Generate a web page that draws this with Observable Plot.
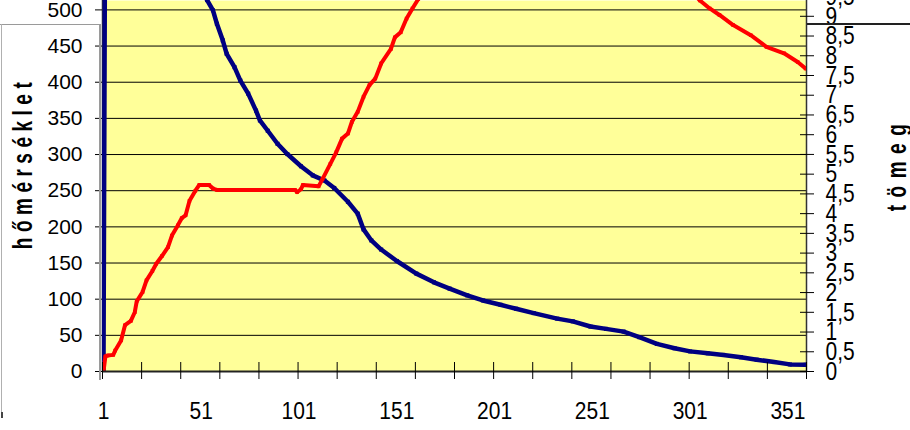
<!DOCTYPE html>
<html><head><meta charset="utf-8">
<script src="https://cdn.jsdelivr.net/npm/d3@7"></script>
<script src="https://cdn.jsdelivr.net/npm/@observablehq/plot@0.6"></script>
<style>
body{margin:0;background:#fff;}
#wrap{position:relative;width:910px;height:430px;overflow:hidden;}
.ln{position:absolute;}
</style></head><body>
<div id="wrap">
  <div id="chart"></div>
  <div class="ln" style="left:0;top:24px;width:100px;height:1px;background:#9a9a9a"></div>
  <div class="ln" style="left:1px;top:24px;width:1px;height:394px;background:#b0b0b0"></div>
  <div class="ln" style="left:1px;top:412px;width:2px;height:6px;background:#444"></div>
  <div class="ln" style="left:99px;top:24px;width:2px;height:356px;background:#9a9a9a"></div>
  <div class="ln" style="left:807px;top:23px;width:103px;height:2px;background:#222"></div>
</div>
<script>
// temperature (hőmérséklet), left axis
const tempCat = [1, 2, 3, 6, 7, 10, 12, 15, 17, 18, 21, 23, 26, 28, 31, 34, 36, 39, 41, 43, 45, 48, 50, 55, 57, 59, 99, 100, 102, 103, 111, 113, 117, 120, 123, 126, 128, 131, 134, 137, 140, 143, 148, 150, 153, 156, 159, 162, 170, 180, 195, 210, 230, 250, 270, 290, 300, 306, 311, 316, 323, 332, 340, 349, 356, 360];
const tempVal = [0, 21, 22, 23, 29, 43, 64, 70, 82, 97, 110, 126, 139, 149, 160, 172, 188, 202, 212, 216, 236, 250, 258, 258, 253, 251, 251, 248, 252, 258, 256, 266, 287, 303, 322, 329, 345, 359, 380, 396, 405, 426, 446, 462, 469, 488, 502, 515, 545, 575, 605, 625, 635, 630, 605, 560, 530, 513, 502, 493, 479, 465, 449, 440, 428, 419];
// mass (tömeg), right axis
const massCat = [1, 2, 10, 20, 30, 40, 48, 54, 57, 59, 62, 64, 68, 71, 75, 79, 81, 85, 90, 95, 102, 108, 114, 119, 126, 131, 134, 138, 143, 151, 161, 170, 178, 187, 195, 204, 212, 221, 233, 241, 250, 258, 267, 275, 284, 293, 301, 310, 318, 327, 335, 344, 352, 360];
const massVal = [0, 14, 13.2, 12.3, 11.4, 10.6, 9.9, 9.41, 9.15, 8.81, 8.39, 8.05, 7.71, 7.37, 7.04, 6.61, 6.36, 6.10, 5.77, 5.51, 5.20, 4.97, 4.84, 4.65, 4.30, 4.00, 3.60, 3.32, 3.09, 2.80, 2.48, 2.26, 2.10, 1.93, 1.80, 1.69, 1.59, 1.48, 1.34, 1.27, 1.14, 1.08, 1.01, 0.87, 0.70, 0.59, 0.51, 0.46, 0.42, 0.36, 0.30, 0.24, 0.18, 0.17];

const tempTicks = [0, 50, 100, 150, 200, 250, 300, 350, 400, 450, 500];
const massTicks = [0, 0.5, 1, 1.5, 2, 2.5, 3, 3.5, 4, 4.5, 5, 5.5, 6, 6.5, 7, 7.5, 8, 8.5, 9, 9.5];
const xLabels = [1, 51, 101, 151, 201, 251, 301, 351];
const xTickPos = [0.5, 20.5, 40.5, 60.5, 80.5, 100.5, 120.5, 140.5, 160.5, 180.5, 200.5, 220.5, 240.5, 260.5, 280.5, 300.5, 320.5, 340.5, 360.5];
const leftTitle = "hőmérséklet";
const rightTitle = "tömeg";

const tempMax = 513, massMax = 9.4;
const k = tempMax / massMax;
const temp = tempCat.map((c, i) => ({cat: c, v: tempVal[i]}));
const mass = massCat.map((c, i) => ({cat: c, v: massVal[i] * k}));
const font = '"Liberation Sans", Arial, sans-serif';

const chart = Plot.plot({
  width: 910, height: 430,
  marginLeft: 102, marginRight: 104, marginTop: 0, marginBottom: 59,
  style: {fontFamily: font, fontSize: "21px", background: "white", color: "black"},
  x: {domain: [0.5, 360.5]},
  y: {domain: [0, tempMax]},
  marks: [
    Plot.frame({fill: "#FFFF99", stroke: "none"}),
    Plot.ruleY(tempTicks.filter(d => d > 0), {stroke: "#000", strokeWidth: 1}),
    Plot.ruleX([0.5, 360.5], {stroke: "#333", strokeWidth: 1.5}),
    Plot.line(mass, {x: "cat", y: "v", stroke: "#000080", strokeWidth: 4.5, strokeLinejoin: "round", clip: true}),
    Plot.dot(mass, {x: "cat", y: "v", symbol: "square", r: 2.3, fill: "#000080", clip: true}),
    Plot.line(temp, {x: "cat", y: "v", stroke: "#FF0000", strokeWidth: 4, strokeLinejoin: "round", clip: true}),
    Plot.dot(temp, {x: "cat", y: "v", symbol: "square", r: 2, fill: "#FF0000", clip: true}),
    Plot.ruleY([0], {stroke: "#222", strokeWidth: 2}),
    Plot.axisY({ticks: tempTicks, anchor: "left", tickSize: 7, tickPadding: 13, fontSize: 21, label: null}),
    Plot.axisY({ticks: massTicks.map(m => m * k), anchor: "right", tickSize: 14, dx: -7, tickPadding: 12, fontSize: 21, label: null,
      tickFormat: v => String(Math.round(v / k * 2) / 2).replace(".", ",")}),
    Plot.axisX({ticks: xTickPos, tickSize: 17, dy: -9, tickFormat: () => "", label: null}),
    Plot.axisX({ticks: xLabels, tickSize: 0, tickPadding: 31, fontSize: 21, label: null}),
    Plot.text([leftTitle], {text: d => d, frameAnchor: "left", textAnchor: "middle", dx: -80, dy: -23, rotate: -90, fontWeight: "bold", fontSize: 19}),
    Plot.text([rightTitle], {text: d => d, frameAnchor: "right", textAnchor: "middle", dx: 90, dy: -22, rotate: -90, fontWeight: "bold", fontSize: 19})
  ]
});
document.getElementById("chart").appendChild(chart);

function stretch(el, f) {
  const bb = el.getBBox();
  const cy = bb.y + bb.height / 2;
  const tr = el.getAttribute("transform") || "";
  el.setAttribute("transform", `${tr} translate(0,${cy}) scale(1,${f}) translate(0,${-cy})`);
}
const yLabelGroups = d3.select(chart).selectAll('g[aria-label="y-axis tick label"]').nodes();
if (yLabelGroups.length > 1) d3.select(yLabelGroups[yLabelGroups.length - 1]).selectAll("text").each(function() { stretch(this, 1.2); });
const xLabelGroups = d3.select(chart).selectAll('g[aria-label="x-axis tick label"]').nodes();
if (xLabelGroups.length) d3.select(xLabelGroups[xLabelGroups.length - 1]).selectAll("text").each(function() { stretch(this, 1.15); });

d3.select(chart).selectAll("text").each(function() {
  const t = this.textContent;
  if (t === leftTitle || t === rightTitle) {
    const el = d3.select(this);
    el.style("letter-spacing", t === leftTitle ? "5.5px" : "7.5px");
    el.attr("transform", (el.attr("transform") || "") + " scale(1,1.5)");
  }
});
</script>
</body></html>
